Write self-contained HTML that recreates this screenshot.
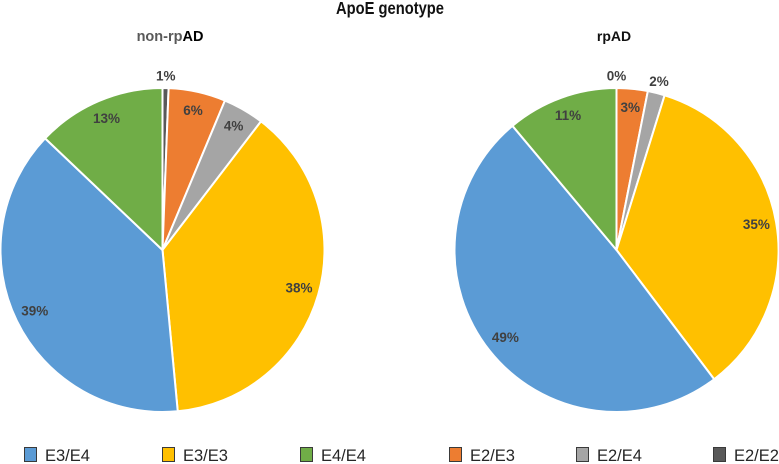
<!DOCTYPE html>
<html>
<head>
<meta charset="utf-8">
<title>ApoE genotype</title>
<style>
html,body{margin:0;padding:0;background:#fff;}
body{width:779px;height:464px;overflow:hidden;}
svg{display:block;font-family:"Liberation Sans",sans-serif;filter:blur(0.3px);}
</style>
</head>
<body>
<svg id="chart" width="779" height="464" viewBox="0 0 779 464" xmlns="http://www.w3.org/2000/svg">
  <text x="390" y="14" text-anchor="middle" font-size="17.5" font-weight="bold" fill="#111" textLength="108" lengthAdjust="spacingAndGlyphs">ApoE genotype</text>
  <text x="170" y="41" text-anchor="middle" font-size="14.5" font-weight="bold" fill="#595959">non-rp<tspan fill="#000">AD</tspan></text>
  <text x="614" y="41" text-anchor="middle" font-size="14" font-weight="bold" fill="#111">rpAD</text>
</svg>
<script>
const categories = ['E2/E2', 'E2/E3', 'E2/E4', 'E3/E3', 'E3/E4', 'E4/E4'];
const nonRpValues = [0.6, 5.7, 4.1, 38.1, 38.6, 12.9];
const nonRpLabels = ['1%', '6%', '4%', '38%', '39%', '13%'];
const rpValues = [0, 3.1, 1.7, 34.9, 49.2, 11.1];
const rpLabels = ['0%', '3%', '2%', '35%', '49%', '11%'];
const legendOrder = ['E3/E4', 'E3/E3', 'E4/E4', 'E2/E3', 'E2/E4', 'E2/E2'];

const colors = {'E2/E2':'#595959','E2/E3':'#ed7d31','E2/E4':'#a5a5a5','E3/E3':'#ffc000','E3/E4':'#5b9bd5','E4/E4':'#70ad47'};
const legendX = [24, 162, 300, 449, 576, 713];
const svg = document.getElementById('chart');
const NS = 'http://www.w3.org/2000/svg';

function polar(cx, cy, r, frac) {
  const a = frac * 2 * Math.PI;
  return [cx + r * Math.sin(a), cy - r * Math.cos(a)];
}

function drawPie(prefix, values, labels, cx, cy, r) {
  const total = values.reduce((s, v) => s + v, 0);
  const labelLayer = [];
  let acc = 0;
  values.forEach((v, i) => {
    const start = acc / total;
    acc += v;
    const end = acc / total;
    const share = v / total * 100;
    if (v > 0) {
      const p0 = polar(cx, cy, r, start);
      const p1 = polar(cx, cy, r, end);
      const large = end - start > 0.5 ? 1 : 0;
      const path = document.createElementNS(NS, 'path');
      path.setAttribute('d', `M${cx} ${cy}L${p0[0]} ${p0[1]}A${r} ${r} 0 ${large} 1 ${p1[0]} ${p1[1]}Z`);
      path.setAttribute('fill', colors[categories[i]]);
      path.setAttribute('stroke', '#fff');
      path.setAttribute('stroke-width', '2');
      path.setAttribute('stroke-linejoin', 'round');
      
      
      svg.appendChild(path);
    }
    const outside = share < 2.5;
    const lp = polar(cx, cy, outside ? r + 11 : r - 20, (start + end) / 2);
    labelLayer.push([lp, labels[i], categories[i]]);
  });
  labelLayer.forEach(item => {
    const t = document.createElementNS(NS, 'text');
    t.setAttribute('x', item[0][0]);
    t.setAttribute('y', item[0][1] + 3.5);
    t.setAttribute('text-anchor', 'middle');
    t.setAttribute('font-size', '13.5');
    t.setAttribute('font-weight', 'bold');
    t.setAttribute('fill', '#404040');
    
    
    t.textContent = item[1];
    svg.appendChild(t);
  });
}

drawPie('non-rpad', nonRpValues, nonRpLabels, 162.5, 250, 162);
drawPie('rpad', rpValues, rpLabels, 616.5, 250, 162);

legendOrder.forEach((name, i) => {
  const rect = document.createElementNS(NS, 'rect');
  rect.setAttribute('x', legendX[i] + 0.5);
  rect.setAttribute('y', 447.5);
  rect.setAttribute('width', 12);
  rect.setAttribute('height', 14);
  rect.setAttribute('fill', colors[name]);
  rect.setAttribute('stroke', '#3a3a3a');
  rect.setAttribute('stroke-width', '1');
  
  
  svg.appendChild(rect);
  const t = document.createElementNS(NS, 'text');
  t.setAttribute('x', legendX[i] + 21);
  t.setAttribute('y', 461);
  t.setAttribute('font-size', '16.5');
  t.setAttribute('fill', '#262626');
  
  
  t.textContent = name;
  svg.appendChild(t);
});
</script>
</body>
</html>
